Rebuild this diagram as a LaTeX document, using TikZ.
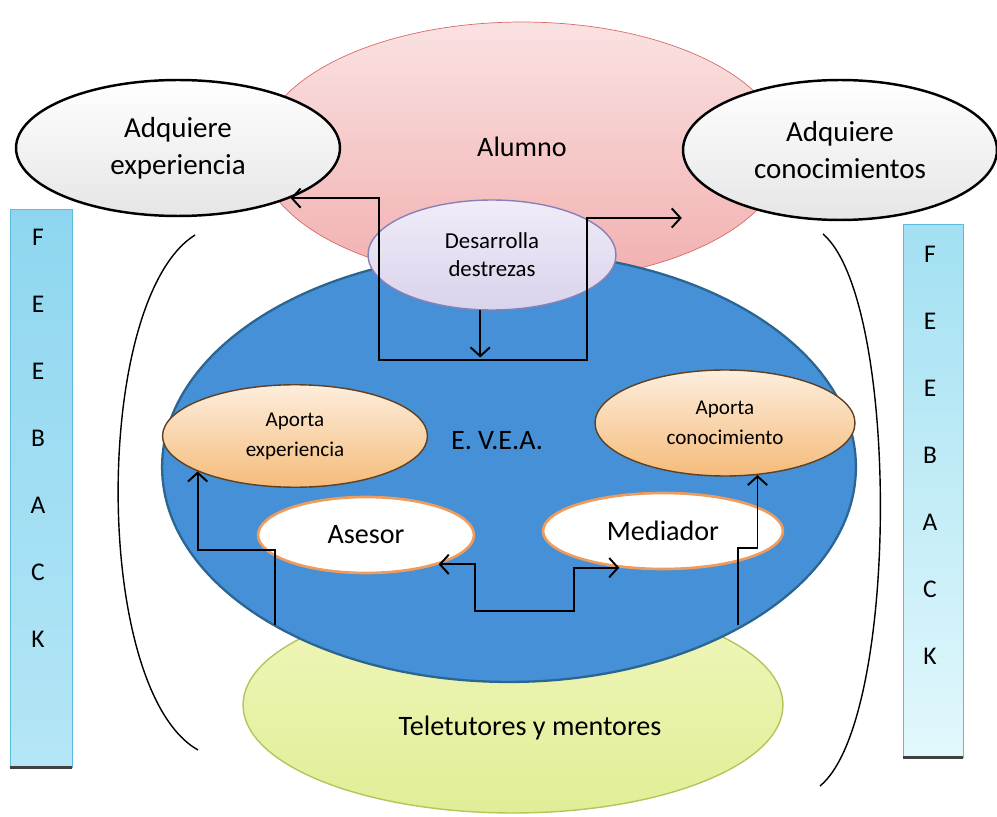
\documentclass[tikz,border=0pt]{standalone}
\usepackage{fontspec}
\setmainfont{Carlito}
\usepackage{tikz}
\usetikzlibrary{shapes,arrows.meta}
\definecolor{aluT}{HTML}{FAE2E2}
\definecolor{aluB}{HTML}{F2AFAF}
\definecolor{aluLine}{HTML}{D86A6A}
\definecolor{eveaFill}{HTML}{4590D6}
\definecolor{eveaLine}{HTML}{2B6592}
\definecolor{tutT}{HTML}{F0F6BC}
\definecolor{tutB}{HTML}{E2EE96}
\definecolor{tutLine}{HTML}{B4C55A}
\definecolor{desT}{HTML}{F0ECF8}
\definecolor{desB}{HTML}{D9D3EC}
\definecolor{desLine}{HTML}{8A80B8}
\definecolor{peachT}{HTML}{FDEEDD}
\definecolor{peachB}{HTML}{F5BB7A}
\definecolor{roleLine}{HTML}{EF9B5C}
\definecolor{fbLT}{HTML}{8ED6F0}
\definecolor{fbLB}{HTML}{B4E6F6}
\definecolor{fbRT}{HTML}{A2E0F2}
\definecolor{fbRB}{HTML}{E2F8FC}
\definecolor{fbLine}{HTML}{5CBCDC}

\begin{document}
\begin{tikzpicture}[x=0.02cm,y=-0.02cm]
    \tikzstyle{dedge} = [line width=1.1pt,->,>={Straight Barb[length=5pt,width=11pt]},draw=black]
    \tikzstyle{blob} = [ellipse,inner sep=0pt,align=center]
    \tikzstyle{adq} = [blob,draw=black,line width=1.4pt,top color=white,bottom color=black!10,
      font=\fontsize{16.5}{21}\selectfont]
    \tikzstyle{apo} = [blob,draw=brown!50!black,thick,top color=peachT,bottom color=peachB,
      font=\fontsize{12}{17}\selectfont]
    \tikzstyle{role} = [blob,draw=roleLine,line width=1.5pt,fill=white,font=\fontsize{16}{19}\selectfont]
    \tikzstyle{fb} = [rectangle,draw=fbLine,inner sep=0pt]
    \tikzstyle{fbtxt} = [font=\fontsize{14.5}{17}\selectfont]
    \tikzstyle{big} = [font=\fontsize{16}{19}\selectfont]

    \useasboundingbox (0,0) rectangle (997,817);

    \node[blob,draw=aluLine,top color=aluT,bottom color=aluB,minimum width=10.5cm,minimum height=5.2cm] (alumno) at (522,152) {};
    \node[blob,draw=tutLine,thick,top color=tutT,bottom color=tutB,minimum width=10.8cm,minimum height=4.32cm] (tutores) at (513,705) {};
    \node[blob,draw=eveaLine,line width=1.3pt,fill=eveaFill,minimum width=13.88cm,minimum height=8.6cm] (evea) at (509,467) {};

    \node[big] (aluTxt) at (522,147) {Alumno};
    \node[big] (eveaTxt) at (497,441) {E. V.E.A.};
    \node[big] (tutTxt) at (530,728) {Teletutores y mentores};

    \draw[thick] (195,235) .. controls (92,300) and (92,690) .. (198,750);
    \draw[thick] (823,234) .. controls (900,300) and (900,720) .. (820,786);

    \node[fb,top color=fbLT,bottom color=fbLB,minimum width=1.24cm,minimum height=11.16cm] (fbL) at (41,488) {};
    \draw[line width=1.5pt,black!75] (fbL.south west) -- (fbL.south east);
    \foreach \l [count=\i] in {F,E,E,B,A,C,K}
      \node[fbtxt] (fbL\i) at (38,237+67*\i-67) {\l};
    \node[fb,top color=fbRT,bottom color=fbRB,minimum width=1.2cm,minimum height=10.66cm] (fbR) at (933,491) {};
    \draw[line width=1.5pt,black!75] (fbR.south west) -- (fbR.south east);
    \foreach \l [count=\i] in {F,E,E,B,A,C,K}
      \node[fbtxt] (fbR\i) at (930,254+67*\i-67) {\l};

    \node[adq,minimum width=6.48cm,minimum height=2.72cm] (expAdq) at (178,148) {Adquiere\\experiencia};
    \node[adq,minimum width=6.28cm,minimum height=2.8cm] (conAdq) at (840,150) {Adquiere\\conocimientos};
    \node[blob,draw=desLine,thick,top color=desT,bottom color=desB,minimum width=4.96cm,minimum height=2.2cm,
      font=\fontsize{13}{16}\selectfont] (destrezas) at (492,255) {Desarrolla\\destrezas};
    \node[apo,minimum width=5.3cm,minimum height=2.05cm] (expApo) at (295,436) {Aporta\\experiencia};
    \node[apo,minimum width=5.2cm,minimum height=2.12cm] (conApo) at (725,423) {Aporta\\conocimiento};
    \node[role,minimum width=4.32cm,minimum height=1.52cm] (asesor) at (366,535) {Asesor};
    \node[role,minimum width=4.8cm,minimum height=1.52cm] (mediador) at (663,531) {Mediador};

    \coordinate (tL) at (275,625);
    \coordinate (tR) at (738,625);

    \draw[dedge,<->] (expAdq.-24) -| (379,360) -| (587,218) -- (conAdq.west |- 0,218);
    \draw[dedge] (destrezas.-102) -- ++(0,47);
    \draw[dedge] (tL) |- (expApo.-160 |- 0,550) -- (expApo.-160);
    \draw[dedge] (tR) |- (conApo.-58 |- 0,548) -- (conApo.-58);
    \draw[dedge,<->] (asesor.-22) -| (475,611) -| (mediador.220 -| 574,0) -- (mediador.220);
  \end{tikzpicture}
\end{document}
